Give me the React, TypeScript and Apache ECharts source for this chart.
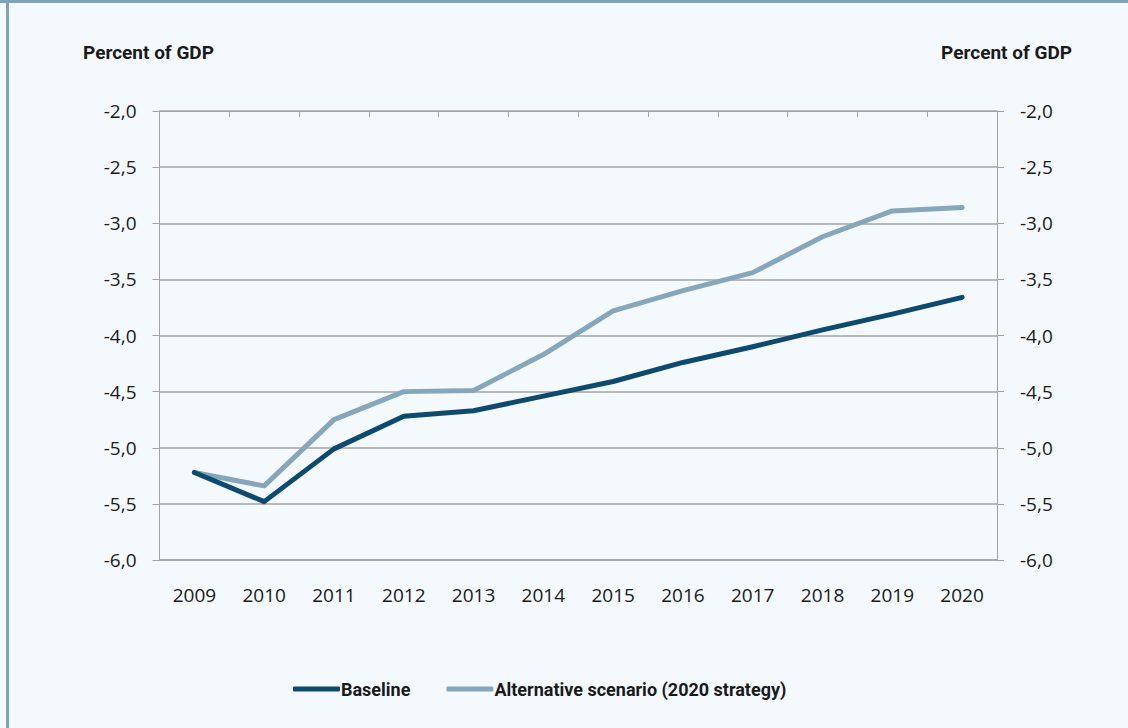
import React, { useEffect, useRef } from "react";
import * as echarts from "echarts";

const years = ["2009", "2010", "2011", "2012", "2013", "2014", "2015", "2016", "2017", "2018", "2019", "2020"];
const baseline = [-5.22, -5.48, -5.01, -4.72, -4.67, -4.54, -4.41, -4.24, -4.1, -3.95, -3.81, -3.66];
const alternative = [-5.22, -5.34, -4.75, -4.5, -4.49, -4.17, -3.78, -3.6, -3.44, -3.12, -2.89, -2.86];
const seriesNames = ["Baseline", "Alternative scenario (2020 strategy)"];
const unitLabel = "Percent of GDP";

const BG = "#f4f9fd";
const FRAME = "#7fa2b7";
const GRID_GRAY = "#a3a3a3";
const DARK = "#0c4a70";
const LIGHT = "#86a7bb";
const TEXT = "#1a1a1a";
const LABEL_FONT = "'Open Sans', 'Noto Sans', sans-serif";
const HEAD_FONT = "Roboto, 'Open Sans', sans-serif";

const fmt = (v: number) => v.toFixed(1).replace(".", ",");

export default function App() {
  const ref = useRef<HTMLDivElement>(null);

  useEffect(() => {
    if (!ref.current) return;
    const chart = echarts.init(ref.current, undefined, { renderer: "svg" });
    const yAxisCommon = {
      type: "value" as const,
      min: -6,
      max: -2,
      interval: 0.5,
      axisLine: { show: true, lineStyle: { color: GRID_GRAY, width: 1 } },
      axisTick: { show: true, inside: false, length: 7, lineStyle: { color: GRID_GRAY } },
      axisLabel: {
        formatter: fmt,
        color: TEXT,
        fontFamily: LABEL_FONT,
        fontSize: 19,
        margin: 23,
      },
    };
    chart.setOption({
      animation: false,
      backgroundColor: BG,
      graphic: [
        { type: "rect", shape: { x: 0, y: 0, width: 1128, height: 3 }, style: { fill: FRAME } },
        { type: "rect", shape: { x: 6, y: 0, width: 3, height: 728 }, style: { fill: FRAME } },
        {
          type: "text",
          left: 83,
          top: 43,
          style: { text: unitLabel, fill: TEXT, font: `bold 19px ${HEAD_FONT}` },
        },
        {
          type: "text",
          right: 56,
          top: 43,
          style: { text: unitLabel, fill: TEXT, font: `bold 19px ${HEAD_FONT}` },
        },
      ],
      grid: { left: 159.5, right: 131, top: 111, bottom: 168, containLabel: false },
      legend: {
        data: seriesNames,
        left: 288,
        top: 675,
        icon: "roundRect",
        itemWidth: 47,
        itemHeight: 5,
        itemGap: 36,
        textStyle: {
          color: TEXT,
          fontFamily: HEAD_FONT,
          fontWeight: "bold",
          fontSize: 18,
          padding: [0, 0, 0, -4],
        },
      },
      xAxis: [
        {
          type: "category",
          data: years,
          boundaryGap: true,
          position: "bottom",
          axisLine: { show: true, lineStyle: { color: GRID_GRAY, width: 1.5 } },
          axisTick: { show: false },
          axisLabel: { color: TEXT, fontFamily: LABEL_FONT, fontSize: 19, margin: 25 },
        },
        {
          type: "category",
          data: years,
          boundaryGap: true,
          position: "top",
          axisLine: { show: true, lineStyle: { color: GRID_GRAY, width: 1 } },
          axisTick: { show: true, inside: true, length: 6, lineStyle: { color: GRID_GRAY } },
          axisLabel: { show: false },
        },
      ],
      yAxis: [
        {
          ...yAxisCommon,
          position: "left",
          splitLine: { show: true, lineStyle: { color: GRID_GRAY, width: 1.5 } },
        },
        {
          ...yAxisCommon,
          position: "right",
          splitLine: { show: false },
        },
      ],
      series: [
        {
          name: seriesNames[0],
          type: "line",
          data: baseline,
          symbol: "none",
          color: DARK,
          lineStyle: { color: DARK, width: 5, cap: "round", join: "round" },
          z: 3,
        },
        {
          name: seriesNames[1],
          type: "line",
          data: alternative,
          symbol: "none",
          color: LIGHT,
          lineStyle: { color: LIGHT, width: 5, cap: "round", join: "round" },
          z: 2,
        },
      ],
    });
    return () => chart.dispose();
  }, []);

  return (
    <div
      ref={ref}
      style={{ position: "fixed", left: 0, top: 0, width: 1128, height: 728 }}
    />
  );
}
